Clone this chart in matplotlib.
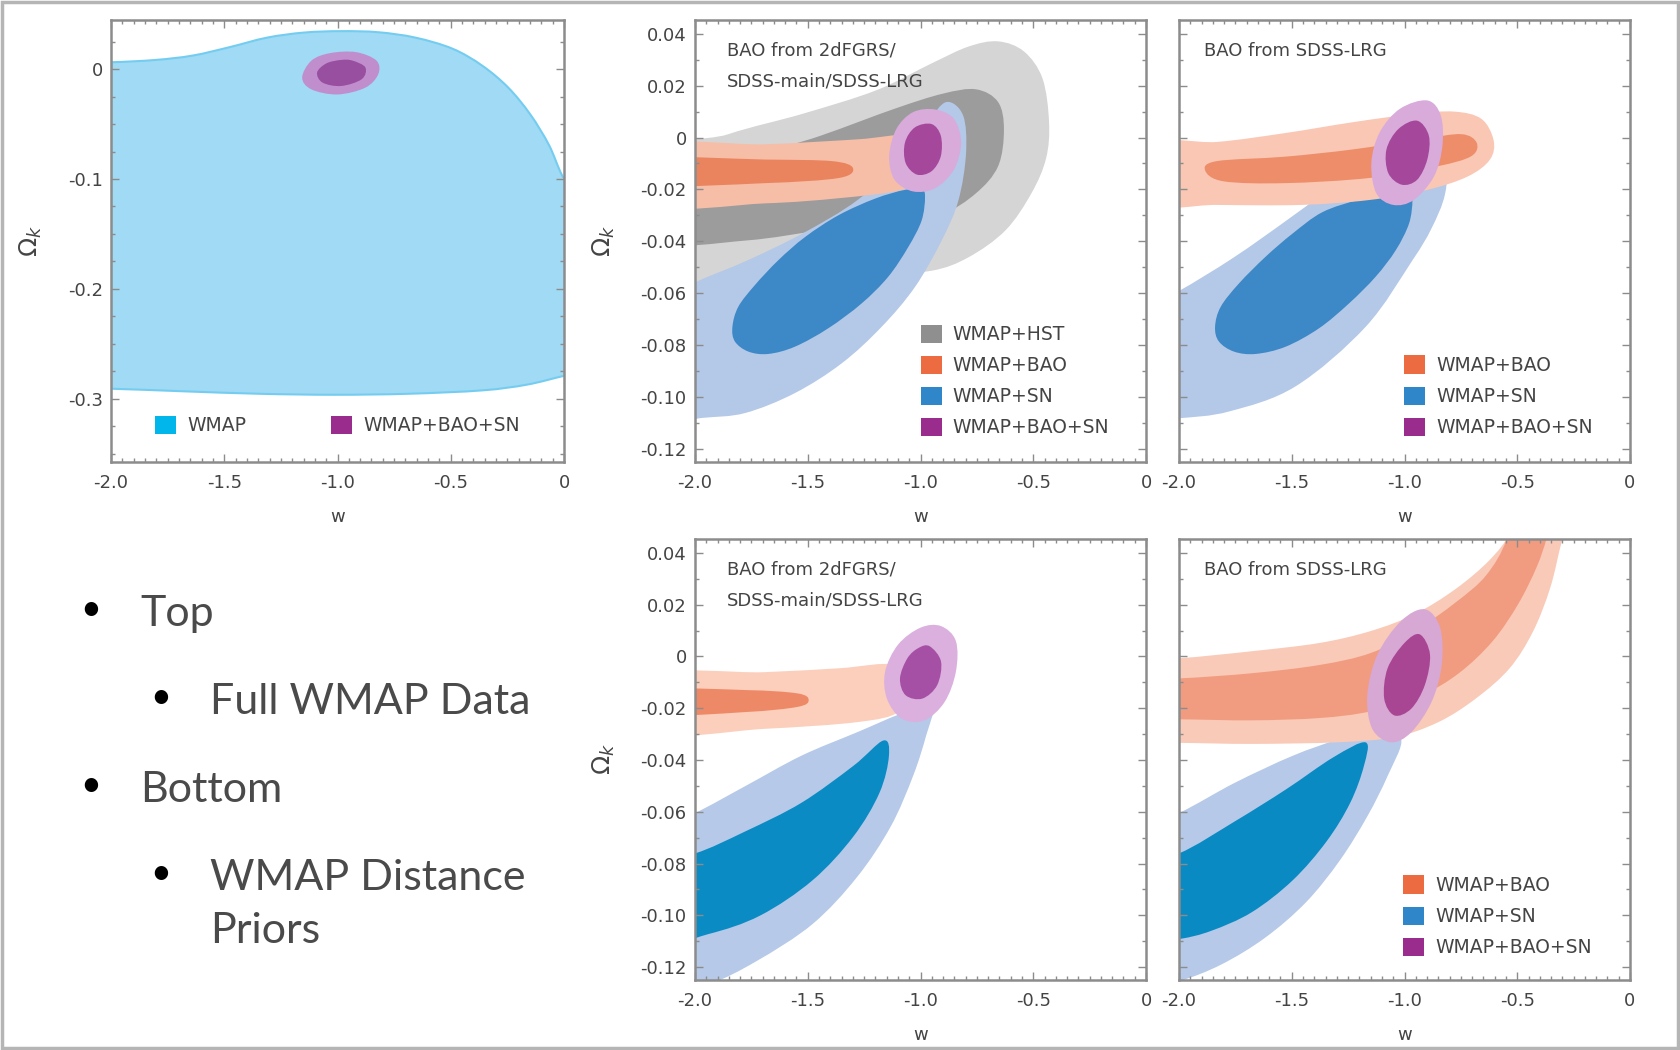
import numpy as np
import matplotlib
matplotlib.use("Agg")
import matplotlib.pyplot as plt
from matplotlib.path import Path
from matplotlib.patches import PathPatch, Patch, Rectangle
from matplotlib.ticker import MultipleLocator

# ---------------- data: confidence-region boundaries (w, Omega_k) ----------------
# top-left panel: full WMAP data
TL_WMAP_W = [-2.164, -2.0, -1.803, -1.639, -1.475, -1.311, -1.148, -0.984, -0.820, -0.656, -0.492, -0.361, -0.246, -0.148, -0.066, -0.008, 0.066, 0.098, 0.0, -0.164, -0.361, -0.689, -1.016, -1.344, -1.672, -2.0, -2.164]
TL_WMAP_OK = [0.0062, 0.0062, 0.0083, 0.0123, 0.0200, 0.0286, 0.0332, 0.0345, 0.0335, 0.0286, 0.0185, 0.0031, -0.0169, -0.0415, -0.0692, -0.0969, -0.1215, -0.2754, -0.2791, -0.2871, -0.2923, -0.2954, -0.2963, -0.2954, -0.2932, -0.2908, -0.2908]
TL_ALL95_W = [-0.918, -0.828, -0.820, -0.877, -1.0, -1.115, -1.156, -1.115, -1.033]
TL_ALL95_OK = [0.0154, 0.0077, -0.0046, -0.0169, -0.0231, -0.0185, -0.0077, 0.0077, 0.0145]
TL_ALL68_W = [-0.934, -0.877, -0.893, -0.984, -1.066, -1.090, -1.049, -0.984]
TL_ALL68_OK = [0.0077, 0.0015, -0.0092, -0.0154, -0.0123, -0.0031, 0.0052, 0.0083]

# top-middle panel: BAO from 2dFGRS/SDSS-main/SDSS-LRG, full WMAP
TM_HST95_W = [-2.18, -1.852, -1.525, -1.197, -0.951, -0.787, -0.656, -0.541, -0.459, -0.430, -0.443, -0.508, -0.623, -0.787, -0.951, -1.197, -1.525, -1.852, -2.18]
TM_HST95_OK = [-0.0098, 0.0013, 0.0091, 0.0182, 0.0286, 0.0351, 0.0371, 0.0332, 0.0228, 0.0060, -0.0080, -0.0215, -0.0358, -0.0462, -0.0514, -0.0527, -0.0566, -0.0618, -0.067]
TM_HST68_W = [-2.18, -1.770, -1.443, -1.115, -0.902, -0.754, -0.656, -0.630, -0.656, -0.754, -0.902, -1.115, -1.443, -1.770, -2.18]
TM_HST68_OK = [-0.0254, -0.0085, 0.0007, 0.0111, 0.0169, 0.0186, 0.0137, 0.0030, -0.0111, -0.0215, -0.0293, -0.0319, -0.0358, -0.0397, -0.0410]
TM_BAO95_W = [-2.18, -1.689, -1.279, -1.066, -1.0, -1.016, -1.082, -1.361, -1.689, -2.18]
TM_BAO95_OK = [-0.0033, -0.0026, -0.0007, 0.0007, -0.0059, -0.0150, -0.0202, -0.0234, -0.0254, -0.0260]
TM_BAO68_W = [-2.18, -1.689, -1.393, -1.300, -1.361, -1.689, -2.18]
TM_BAO68_OK = [-0.0082, -0.0085, -0.0091, -0.0117, -0.0156, -0.0176, -0.0182]
TM_SN95_W = [-0.885, -0.811, -0.798, -0.832, -0.906, -1.024, -1.172, -1.349, -1.557, -1.778, -1.970, -2.18, -2.262, -2.18, -2.0, -1.770, -1.525, -1.279, -1.066, -0.967]
TM_SN95_OK = [0.0137, 0.0085, -0.0060, -0.0243, -0.0397, -0.0576, -0.0730, -0.0871, -0.0986, -0.1063, -0.1082, -0.1099, -0.0904, -0.0644, -0.0559, -0.0475, -0.0371, -0.0241, -0.0072, 0.0059]
TM_SN68_W = [-0.980, -0.995, -1.054, -1.143, -1.261, -1.409, -1.557, -1.675, -1.763, -1.823, -1.834, -1.808, -1.734, -1.630, -1.512, -1.364, -1.202, -1.069, -0.995]
TM_SN68_OK = [-0.0230, -0.0320, -0.0422, -0.0537, -0.0640, -0.0736, -0.0807, -0.0835, -0.0826, -0.0787, -0.0730, -0.0653, -0.0569, -0.0473, -0.0384, -0.0300, -0.0236, -0.0202, -0.0202]
TM_ALL95_W = [-0.934, -0.852, -0.820, -0.852, -0.934, -1.033, -1.115, -1.139, -1.107, -1.033]
TM_ALL95_OK = [0.0108, 0.0072, -0.0020, -0.0124, -0.0195, -0.0208, -0.0163, -0.0072, 0.0033, 0.0098]
TM_ALL68_W = [-0.951, -0.910, -0.910, -0.951, -1.016, -1.066, -1.069, -1.025]
TM_ALL68_OK = [0.0052, 0.0007, -0.0072, -0.0130, -0.0143, -0.0098, -0.0020, 0.0039]

# top-right panel: BAO from SDSS-LRG, full WMAP
TR_BAO95_W = [-2.132, -1.832, -1.531, -1.230, -0.959, -0.779, -0.659, -0.605, -0.621, -0.719, -0.899, -1.155, -1.456, -1.832, -2.132]
TR_BAO95_OK = [-0.0026, -0.0017, 0.0017, 0.0059, 0.0091, 0.0100, 0.0072, -0.0010, -0.0085, -0.0150, -0.0202, -0.0241, -0.0260, -0.0260, -0.0254]
TR_BAO68_W = [-1.884, -1.832, -1.531, -1.230, -0.929, -0.749, -0.680, -0.704, -0.854, -1.155, -1.531, -1.802]
TR_BAO68_OK = [-0.0127, -0.0091, -0.0074, -0.0046, -0.0007, 0.0013, -0.0020, -0.0072, -0.0111, -0.0156, -0.0176, -0.0169]
TR_SN95_W = [-0.899, -0.832, -0.809, -0.820, -0.880, -0.965, -1.172, -1.483, -1.778, -2.0, -2.132, -2.223, -2.132, -2.0, -1.756, -1.501, -1.260, -1.050, -0.944]
TR_SN95_OK = [0.0137, 0.0072, -0.0059, -0.0217, -0.0350, -0.0474, -0.0730, -0.0960, -0.1057, -0.1083, -0.1086, -0.0839, -0.0644, -0.0592, -0.0462, -0.0306, -0.0150, 0.0007, 0.0111]
TR_SN68_W = [-0.965, -0.980, -1.039, -1.128, -1.246, -1.379, -1.527, -1.660, -1.756, -1.823, -1.840, -1.815, -1.734, -1.616, -1.497, -1.364, -1.202, -1.054, -0.980]
TR_SN68_OK = [-0.0243, -0.0332, -0.0435, -0.0537, -0.0640, -0.0736, -0.0807, -0.0835, -0.0826, -0.0787, -0.0730, -0.0653, -0.0563, -0.0460, -0.0371, -0.0288, -0.0240, -0.0214, -0.0217]
TR_ALL95_W = [-0.899, -0.839, -0.832, -0.869, -0.959, -1.050, -1.125, -1.147, -1.110, -1.020]
TR_ALL95_OK = [0.0143, 0.0085, -0.0033, -0.0150, -0.0241, -0.0260, -0.0215, -0.0098, 0.0020, 0.0111]
TR_ALL68_W = [-0.944, -0.892, -0.899, -0.944, -1.012, -1.072, -1.080, -1.027]
TR_ALL68_OK = [0.0065, 0.0007, -0.0085, -0.0163, -0.0182, -0.0137, -0.0046, 0.0033]

# bottom-middle panel: BAO from 2dFGRS/SDSS-main/SDSS-LRG, WMAP distance priors
BM_BAO95_W = [-2.190, -1.694, -1.364, -1.116, -1.066, -1.099, -1.281, -1.694, -2.190]
BM_BAO95_OK = [-0.0074, -0.0061, -0.0046, -0.0033, -0.0124, -0.0215, -0.0254, -0.0280, -0.0295]
BM_BAO68_W = [-2.190, -1.777, -1.545, -1.496, -1.545, -1.777, -2.190]
BM_BAO68_OK = [-0.0130, -0.0130, -0.0143, -0.0169, -0.0195, -0.0215, -0.0225]
BM_SN95_W = [-0.950, -0.975, -1.033, -1.132, -1.281, -1.479, -1.727, -1.942, -2.190, -2.273, -2.190, -2.0, -1.777, -1.529, -1.281, -1.066]
BM_SN95_OK = [-0.0202, -0.0306, -0.0462, -0.0657, -0.0852, -0.1034, -0.1177, -0.1268, -0.1320, -0.1034, -0.0670, -0.0605, -0.0501, -0.0384, -0.0293, -0.0215]
BM_SN68_W = [-1.165, -1.140, -1.182, -1.298, -1.479, -1.711, -1.942, -2.190, -2.273, -2.190, -2.0, -1.777, -1.529, -1.298]
BM_SN68_OK = [-0.0325, -0.0384, -0.0527, -0.0696, -0.0865, -0.1001, -0.1073, -0.1112, -0.0904, -0.0787, -0.0761, -0.0676, -0.0566, -0.0423]
BM_ALL95_W = [-0.909, -0.843, -0.843, -0.893, -0.983, -1.083, -1.149, -1.157, -1.099, -1.0]
BM_ALL95_OK = [0.0117, 0.0059, -0.0059, -0.0176, -0.0247, -0.0241, -0.0163, -0.0059, 0.0046, 0.0111]
BM_ALL68_W = [-0.959, -0.909, -0.926, -0.992, -1.066, -1.091, -1.058, -1.008]
BM_ALL68_OK = [0.0039, -0.0020, -0.0111, -0.0163, -0.0150, -0.0085, -0.0007, 0.0033]

# bottom-right panel: BAO from SDSS-LRG, WMAP distance priors
BR_BAO95_W = [-2.203, -2.0, -1.677, -1.376, -1.150, -0.955, -0.774, -0.624, -0.534, -0.504, -0.248, -0.301, -0.353, -0.429, -0.534, -0.684, -0.850, -1.045, -1.301, -1.677, -2.0, -2.203]
BR_BAO95_OK = [-0.0007, -0.0007, 0.0020, 0.0052, 0.0098, 0.0163, 0.0260, 0.0371, 0.0475, 0.0592, 0.0592, 0.0449, 0.0267, 0.0098, -0.0046, -0.0163, -0.0254, -0.0312, -0.0332, -0.0338, -0.0334, -0.0334]
BR_BAO68_W = [-2.203, -2.0, -1.677, -1.376, -1.150, -0.955, -0.774, -0.639, -0.549, -0.534, -0.338, -0.368, -0.414, -0.496, -0.609, -0.759, -0.925, -1.150, -1.376, -1.677, -2.0, -2.203]
BR_BAO68_OK = [-0.0085, -0.0085, -0.0065, -0.0033, 0.0013, 0.0098, 0.0208, 0.0312, 0.0449, 0.0592, 0.0592, 0.0462, 0.0345, 0.0202, 0.0059, -0.0065, -0.0150, -0.0212, -0.0238, -0.0247, -0.0243, -0.0243]
BR_SN95_W = [-1.015, -1.075, -1.165, -1.286, -1.436, -1.617, -1.812, -2.0, -2.203, -2.248, -2.203, -2.0, -1.752, -1.496, -1.286, -1.135]
BR_SN95_OK = [-0.0319, -0.0462, -0.0618, -0.0787, -0.0949, -0.1086, -0.1190, -0.1255, -0.1294, -0.0904, -0.0670, -0.0605, -0.0488, -0.0384, -0.0319, -0.0293]
BR_SN68_W = [-1.173, -1.180, -1.241, -1.346, -1.496, -1.677, -1.857, -2.0, -2.203, -2.248, -2.203, -2.0, -1.752, -1.526, -1.316]
BR_SN68_OK = [-0.0332, -0.0423, -0.0566, -0.0715, -0.0865, -0.0988, -0.1060, -0.1092, -0.1112, -0.0904, -0.0800, -0.0761, -0.0637, -0.0514, -0.0390]
BR_ALL95_W = [-0.910, -0.842, -0.835, -0.880, -0.970, -1.060, -1.143, -1.165, -1.120, -1.015]
BR_ALL95_OK = [0.0182, 0.0111, -0.0033, -0.0176, -0.0293, -0.0332, -0.0280, -0.0150, 0.0007, 0.0137]
BR_ALL68_W = [-0.932, -0.887, -0.910, -0.970, -1.045, -1.090, -1.075, -1.000]
BR_ALL68_OK = [0.0085, 0.0007, -0.0111, -0.0202, -0.0228, -0.0163, -0.0046, 0.0052]

# ticks, labels, legends, text
X_TICKS = [-2.0, -1.5, -1.0, -0.5, 0.0]
X_TICKLABELS = ["-2.0", "-1.5", "-1.0", "-0.5", "0"]
TL_Y_TICKS = [0.0, -0.1, -0.2, -0.3]
TL_Y_TICKLABELS = ["0", "-0.1", "-0.2", "-0.3"]
Y_TICKS = [0.04, 0.02, 0.0, -0.02, -0.04, -0.06, -0.08, -0.10, -0.12]
Y_TICKLABELS = ["0.04", "0.02", "0", "-0.02", "-0.04", "-0.06", "-0.08", "-0.10", "-0.12"]
TL_LEGEND = ["WMAP", "WMAP+BAO+SN"]
TM_LEGEND = ["WMAP+HST", "WMAP+BAO", "WMAP+SN", "WMAP+BAO+SN"]
R_LEGEND = ["WMAP+BAO", "WMAP+SN", "WMAP+BAO+SN"]
NOTE_ALL = "BAO from 2dFGRS/\nSDSS-main/SDSS-LRG"
NOTE_LRG = "BAO from SDSS-LRG"
# (text, indent level, has bullet)
BULLETS = [("Top", 0, True), ("Full WMAP Data", 1, True), ("Bottom", 0, True),
           ("WMAP Distance", 1, True), ("Priors", 1, False)]

# ---------------- style ----------------
GRAY95, GRAY68 = "#d5d5d5", "#9c9c9c"
BLUE95 = "#b4c8e7"
PURP95, PURP68 = "#d8abdb", "#a5479b"
FRAME = "#8c8c8c"
TXT = "#444444"
LEG_COL = {"WMAP": "#00b6ea", "WMAP+HST": "#8f8f8f", "WMAP+BAO": "#ec6b40",
           "WMAP+SN": "#2f86c8", "WMAP+BAO+SN": "#9a2c8e"}

plt.rcParams['font.family'] = ['DejaVu Sans']
plt.rcParams['mathtext.fontset'] = 'dejavusans'

fig = plt.figure(figsize=(16.8, 10.5), dpi=100)
fig.patch.set_facecolor("white")
fig.add_artist(Rectangle((0.001, 0.002), 0.998, 0.996, transform=fig.transFigure,
                         fill=False, ec="#b5b5b5", lw=2.5))


def region(ax, w, ok, color, z, ec="none", lw=0.0):
    P = np.column_stack([w, ok]).astype(float)
    n = len(P)
    verts = [P[0]]
    codes = [Path.MOVETO]
    for i in range(n):
        p0, p1, p2, p3 = P[(i - 1) % n], P[i], P[(i + 1) % n], P[(i + 2) % n]
        verts += [p1 + (p2 - p0) / 6.0, p2 - (p3 - p1) / 6.0, p2]
        codes += [Path.CURVE4] * 3
    verts.append(P[0])
    codes.append(Path.CLOSEPOLY)
    ax.add_patch(PathPatch(Path(verts, codes), fc=color, ec=ec, lw=lw, zorder=z))


def px_axes(l, t, r, b):
    return fig.add_axes([l / 1680, 1 - b / 1050, (r - l) / 1680, (b - t) / 1050])


def setup(ax, ylim, yticks, ylabels, ymin, show_y, ylab_x):
    ax.set_xlim(-2.0, 0.0)
    ax.set_ylim(*ylim)
    ax.set_xticks(X_TICKS)
    ax.set_xticklabels(X_TICKLABELS)
    ax.set_yticks(yticks)
    ax.set_yticklabels(ylabels)
    ax.xaxis.set_minor_locator(MultipleLocator(0.05))
    ax.yaxis.set_minor_locator(MultipleLocator(ymin))
    ax.tick_params(which="both", direction="in", top=True, right=True, color=FRAME,
                   labelcolor=TXT, labelsize=13, width=1.0)
    ax.tick_params(which="major", length=6)
    ax.tick_params(which="minor", length=3)
    ax.tick_params(axis="x", pad=9)
    ax.tick_params(axis="y", pad=6)
    if not show_y:
        ax.tick_params(axis="y", labelleft=False)
    for s in ax.spines.values():
        s.set_color(FRAME)
        s.set_linewidth(1.8)
    ax.set_xlabel("w", color=TXT, fontsize=13)
    ax.xaxis.set_label_coords(0.5, -0.105)
    if show_y:
        ax.set_ylabel(r"$\Omega_k$", color=TXT, fontsize=18)
        ax.yaxis.set_label_coords(ylab_x, 0.5)


def legend(ax, labels, anchor, ncol=1, colsp=2.0):
    handles = [Patch(fc=LEG_COL[l], ec="none") for l in labels]
    lg = ax.legend(handles, labels, loc="upper left", bbox_to_anchor=anchor, ncol=ncol,
                   frameon=False, fontsize=13.5, handlelength=1.12, handleheight=1.12,
                   handletextpad=0.6, labelspacing=0.62, borderpad=0.0, borderaxespad=0.0,
                   columnspacing=colsp)
    for t in lg.get_texts():
        t.set_color(TXT)
    lg.set_zorder(10)


YL = (-0.125, 0.0455)

# ---- top-left ----
ax1 = px_axes(111, 19.6, 564, 461.5)
region(ax1, TL_WMAP_W, TL_WMAP_OK, "#a0daf4", 1.0, ec="#74cdf0", lw=1.5)
region(ax1, TL_ALL95_W, TL_ALL95_OK, "#c08ecd", 1.1)
region(ax1, TL_ALL68_W, TL_ALL68_OK, "#994f9f", 1.2)
setup(ax1, (-0.357, 0.045), TL_Y_TICKS, TL_Y_TICKLABELS, 0.025, True, -0.147)
legend(ax1, TL_LEGEND, (0.098, 0.103), ncol=2, colsp=4.5)

# ---- top-middle ----
ax2 = px_axes(695, 19.6, 1146, 461.5)
region(ax2, TM_HST95_W, TM_HST95_OK, GRAY95, 1.0)
region(ax2, TM_HST68_W, TM_HST68_OK, GRAY68, 1.05)
region(ax2, TM_SN95_W, TM_SN95_OK, BLUE95, 1.1)
region(ax2, TM_SN68_W, TM_SN68_OK, "#3d88c6", 1.15)
region(ax2, TM_BAO95_W, TM_BAO95_OK, "#f6bea7", 1.2)
region(ax2, TM_BAO68_W, TM_BAO68_OK, "#ea845f", 1.25)
region(ax2, TM_ALL95_W, TM_ALL95_OK, PURP95, 1.3)
region(ax2, TM_ALL68_W, TM_ALL68_OK, PURP68, 1.35)
setup(ax2, YL, Y_TICKS, Y_TICKLABELS, 0.01, True, -0.173)
legend(ax2, TM_LEGEND, (0.5, 0.31))
ax2.text(0.07, 0.95, NOTE_ALL, transform=ax2.transAxes, ha="left", va="top",
         fontsize=13, color=TXT, linespacing=1.95, zorder=10)

# ---- top-right ----
ax3 = px_axes(1179, 19.6, 1630, 461.5)
region(ax3, TR_SN95_W, TR_SN95_OK, BLUE95, 1.1)
region(ax3, TR_SN68_W, TR_SN68_OK, "#3d88c6", 1.15)
region(ax3, TR_BAO95_W, TR_BAO95_OK, "#f9c7b3", 1.2)
region(ax3, TR_BAO68_W, TR_BAO68_OK, "#ee8d69", 1.25)
region(ax3, TR_ALL95_W, TR_ALL95_OK, PURP95, 1.3)
region(ax3, TR_ALL68_W, TR_ALL68_OK, PURP68, 1.35)
setup(ax3, YL, Y_TICKS, Y_TICKLABELS, 0.01, False, 0)
legend(ax3, R_LEGEND, (0.499, 0.240))
ax3.text(0.055, 0.95, NOTE_LRG, transform=ax3.transAxes, ha="left", va="top",
         fontsize=13, color=TXT, zorder=10)

# ---- bottom-middle ----
ax4 = px_axes(695, 538.6, 1146, 980)
region(ax4, BM_SN95_W, BM_SN95_OK, "#b6c9e8", 1.1)
region(ax4, BM_SN68_W, BM_SN68_OK, "#0b8bc4", 1.15)
region(ax4, BM_BAO95_W, BM_BAO95_OK, "#fbcfbc", 1.2)
region(ax4, BM_BAO68_W, BM_BAO68_OK, "#ee8967", 1.25)
region(ax4, BM_ALL95_W, BM_ALL95_OK, "#dbb0de", 1.3)
region(ax4, BM_ALL68_W, BM_ALL68_OK, "#a650a5", 1.35)
setup(ax4, YL, Y_TICKS, Y_TICKLABELS, 0.01, True, -0.173)
ax4.text(0.07, 0.95, NOTE_ALL, transform=ax4.transAxes, ha="left", va="top",
         fontsize=13, color=TXT, linespacing=1.95, zorder=10)

# ---- bottom-right ----
ax5 = px_axes(1179, 538.6, 1630, 980)
region(ax5, BR_SN95_W, BR_SN95_OK, "#b6c9e8", 1.1)
region(ax5, BR_SN68_W, BR_SN68_OK, "#0a8ac3", 1.15)
region(ax5, BR_BAO95_W, BR_BAO95_OK, "#f9cab7", 1.2)
region(ax5, BR_BAO68_W, BR_BAO68_OK, "#f19c80", 1.25)
region(ax5, BR_ALL95_W, BR_ALL95_OK, "#d7a8d4", 1.3)
region(ax5, BR_ALL68_W, BR_ALL68_OK, "#a84694", 1.35)
setup(ax5, YL, Y_TICKS, Y_TICKLABELS, 0.01, False, 0)
legend(ax5, R_LEGEND, (0.497, 0.237))
ax5.text(0.055, 0.95, NOTE_LRG, transform=ax5.transAxes, ha="left", va="top",
         fontsize=13, color=TXT, zorder=10)

# ---- bullet text ----
BULLET_Y = [626, 714, 802, 890, 943]
for (txt, lvl, has_b), yb in zip(BULLETS, BULLET_Y):
    xb = 91 if lvl == 0 else 161
    xt = 140 if lvl == 0 else 210
    if has_b:
        fig.text(xb / 1680, 1 - (yb - 16) / 1050, "\u2022", ha="center", va="center",
                 fontsize=26, color="black", family=["Lato", "DejaVu Sans"])
    fig.text(xt / 1680, 1 - yb / 1050, txt, ha="left", va="baseline", fontsize=31,
             color="#4a4a4a", family=["Lato", "DejaVu Sans"])

fig.savefig("out.png", dpi=100, facecolor="white")
